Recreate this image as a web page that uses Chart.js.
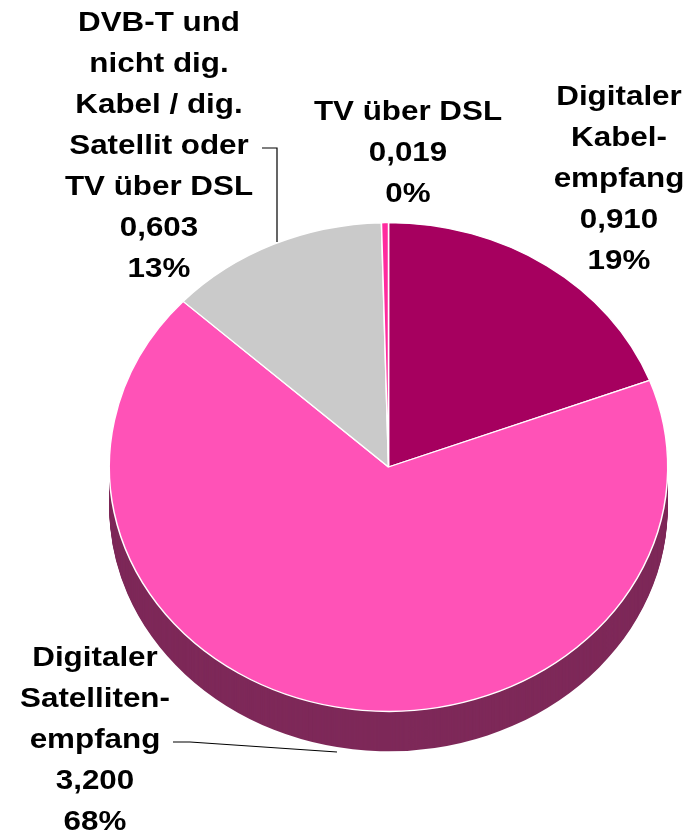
<html>
<head>
  <title>Empfangswege</title>
  <script src="https://cdn.jsdelivr.net/npm/chart.js"></script>
  <style>
    body { margin: 0; background: #fff; }
  </style>
</head>
<body>
  <canvas id="grafik" width="691" height="839"></canvas>

  <script>
    // Daten
    const kategorien = [
      ['Digitaler', 'Kabel-', 'empfang'],
      ['Digitaler', 'Satelliten-', 'empfang'],
      ['DVB-T und', 'nicht dig.', 'Kabel / dig.', 'Satellit oder', 'TV über DSL'],
      ['TV über DSL']
    ];
    const werte = [0.910, 3.200, 0.603, 0.019];

    const farben = ['#A6005F', '#FF52B7', '#CACACA', '#FF2A9E'];
    const seitenFarbe = '#7E2959';
    const stauchung = 0.875;   // Ellipse (3D-Ansicht)
    const tiefe = 40;

    // Beschriftungspositionen (Mitte der ersten Zeile)
    const labelPos = [
      { x: 619, y: 97 },
      { x: 95, y: 658 },
      { x: 159, y: 23 },
      { x: 408, y: 112 }
    ];
    const zeilenAbstand = 41;
    const textBreite = 1.12;

    const summe = werte.reduce((a, b) => a + b, 0);

    function ellipseAn(chart) {
      const arc = chart.getDatasetMeta(0).data[0];
      const ctx = chart.ctx;
      ctx.translate(arc.x, arc.y);
      ctx.scale(1, stauchung);
      ctx.translate(-arc.x, -arc.y);
    }

    const pie3d = {
      id: 'pie3d',
      beforeDatasetsDraw(chart) {
        const ctx = chart.ctx;
        const arcs = chart.getDatasetMeta(0).data;
        ctx.save();
        ellipseAn(chart);
        // Seitenwand
        ctx.fillStyle = seitenFarbe;
        for (let d = tiefe; d >= 1; d--) {
          ctx.save();
          ctx.translate(0, d / stauchung);
          arcs.forEach(a => {
            const p = a.getProps(['x', 'y', 'startAngle', 'endAngle', 'outerRadius']);
            ctx.beginPath();
            ctx.moveTo(p.x, p.y);
            ctx.arc(p.x, p.y, p.outerRadius, p.startAngle, p.endAngle);
            ctx.closePath();
            ctx.fill();
          });
          ctx.restore();
        }
      },
      afterDatasetsDraw(chart) {
        chart.ctx.restore();
      },
      afterDraw(chart) {
        const ctx = chart.ctx;
        ctx.save();
        ctx.fillStyle = '#000';
        ctx.font = 'bold 28px "Liberation Sans", Arial, sans-serif';
        ctx.textAlign = 'center';
        ctx.textBaseline = 'middle';
        kategorien.forEach((zeilen, i) => {
          const alle = zeilen.concat([
            werte[i].toFixed(3).replace('.', ','),
            Math.round(werte[i] / summe * 100) + '%'
          ]);
          alle.forEach((t, j) => {
            ctx.save();
            ctx.translate(labelPos[i].x, labelPos[i].y + j * zeilenAbstand);
            ctx.scale(textBreite, 1);
            ctx.fillText(t, 0, 0);
            ctx.restore();
          });
        });
        // Führungslinien
        ctx.strokeStyle = '#000';
        ctx.lineWidth = 1.2;
        ctx.beginPath();
        ctx.moveTo(262, 148);
        ctx.lineTo(277, 148);
        ctx.lineTo(277, 242);
        ctx.stroke();
        ctx.beginPath();
        ctx.moveTo(173, 742);
        ctx.lineTo(190, 742);
        ctx.lineTo(337, 752);
        ctx.stroke();
        ctx.restore();
      }
    };

    new Chart(document.getElementById('grafik').getContext('2d'), {
      type: 'pie',
      data: {
        labels: kategorien.map(z => z.join(' ')),
        datasets: [{
          data: werte,
          backgroundColor: farben,
          borderColor: '#ffffff',
          borderWidth: 1.5
        }]
      },
      options: {
        responsive: false,
        animation: false,
        layout: { padding: { left: 108, right: 22, top: 187, bottom: 92 } },
        plugins: {
          legend: { display: false },
          tooltip: { enabled: false }
        }
      },
      plugins: [pie3d]
    });
  </script>
</body>
</html>
